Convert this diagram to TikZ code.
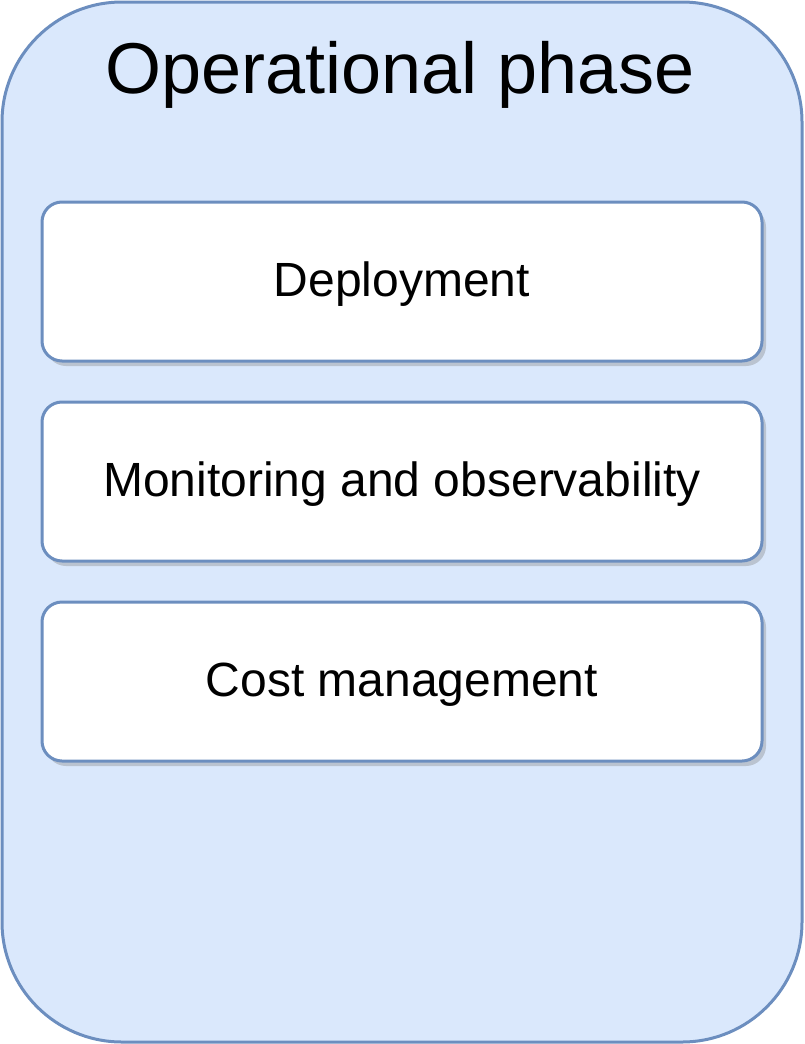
\documentclass[tikz,border=0pt]{standalone}
\usepackage{fontspec}
\setmainfont{Liberation Sans}
\usepackage{xcolor}
\usepackage{tikz}
\usetikzlibrary{positioning,shadows}

\definecolor{phasefill}{HTML}{DAE8FC}
\definecolor{phaseline}{HTML}{6C8EBF}

\tikzset{
	phasebox/.style={draw=phaseline, fill=phasefill, line width=3pt, rounded corners=120pt,
		minimum width=800pt, minimum height=1040pt, inner sep=0pt, outer sep=0pt},
	stagebox/.style={draw=phaseline, fill=white, line width=3pt, rounded corners=20pt,
		minimum width=720pt, minimum height=159pt, inner sep=0pt, outer sep=0pt,
		text height=35pt, text depth=5pt,
		font=\fontsize{48}{56}\selectfont,
		drop shadow={opacity=0.35, shadow xshift=4pt, shadow yshift=-5pt}},
}

\begin{document}
\begin{tikzpicture}[x=1pt,y=-1pt]
		\useasboundingbox (0,0) rectangle (804,1044);
		
		\node[phasebox] (phase) at (402,522) {};
		\node[anchor=base, font=\fontsize{72}{86}\selectfont] (title) at (400,93) {Operational phase};
		
		\node[stagebox] (deploy) at (402,281.5) {Deployment};
		\node[stagebox, below=41pt of deploy] (monitor) {Monitoring and observability};
		\node[stagebox, below=41pt of monitor] (cost) {Cost management};
\end{tikzpicture}
\end{document}
